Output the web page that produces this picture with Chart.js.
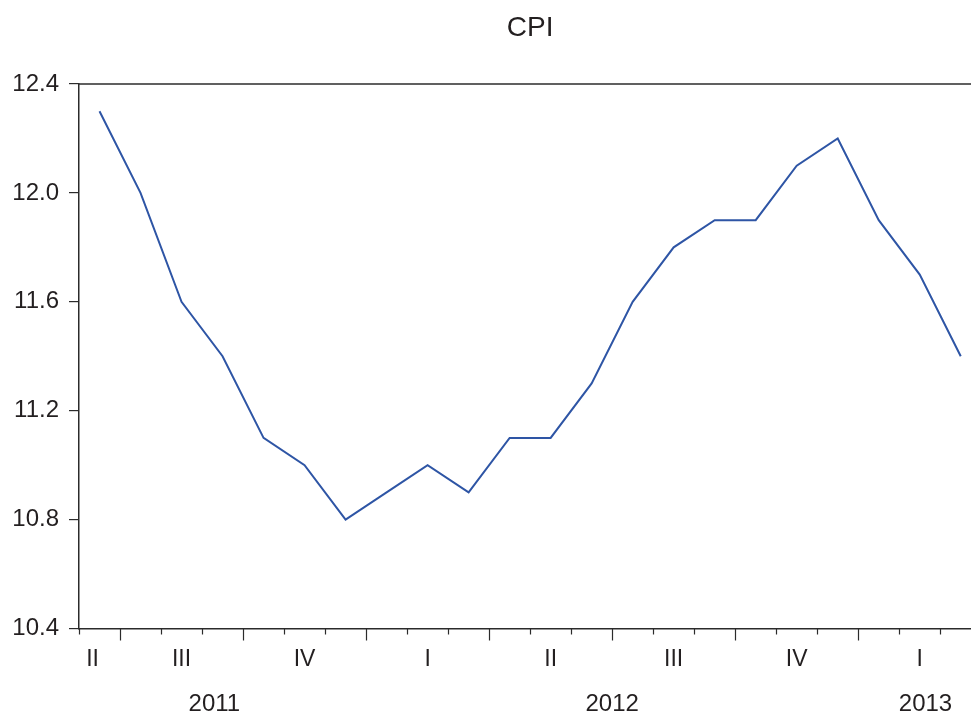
<!DOCTYPE html>
<html>
<head>
<meta charset="utf-8">
<script src="https://cdn.jsdelivr.net/npm/chart.js@4.4.1/dist/chart.umd.min.js"></script>
<style>
  html, body { margin: 0; padding: 0; background: #fff; overflow: hidden; }
  #c { display: block; }
</style>
</head>
<body>
<canvas id="c" width="971" height="717"></canvas>
<script>
// Monthly categories (Jun 2011 .. Mar 2013)
const months = ["2011-06","2011-07","2011-08","2011-09","2011-10","2011-11","2011-12",
                "2012-01","2012-02","2012-03","2012-04","2012-05","2012-06","2012-07",
                "2012-08","2012-09","2012-10","2012-11","2012-12",
                "2013-01","2013-02","2013-03"];
const cpi = [12.3, 12.0, 11.6, 11.4, 11.1, 11.0, 10.8,
             10.9, 11.0, 10.9, 11.1, 11.1, 11.3, 11.6,
             11.8, 11.9, 11.9, 12.1, 12.2,
             11.9, 11.7, 11.4];
// Quarter tick labels and where (in month index units) they sit
const quarterLabels = ["II","III","IV","I","II","III","IV","I"];
const quarterTicks  = [-0.17, 2, 5, 8, 11, 14, 17, 20];
// Year labels
const yearLabels = ["2011","2012","2013"];
const yearTicks  = [2.8, 12.5, 20.14];
// Month boundary tick marks; quarter boundaries get long ticks
const monthBoundaries = [-0.5,0.5,1.5,2.5,3.5,4.5,5.5,6.5,7.5,8.5,9.5,10.5,11.5,12.5,13.5,14.5,15.5,16.5,17.5,18.5,19.5,20.5];
const quarterBoundaries = [0.5, 3.5, 6.5, 9.5, 12.5, 15.5, 18.5];
const yTicks = [10.4, 10.8, 11.2, 11.6, 12.0, 12.4];
const titleText = 'CPI';

const AXIS = '#2b2b2b';
const TEXT = '#231f20';
const FONT = 'Liberation Sans, Arial, sans-serif';

const framePlugin = {
  id: 'frame',
  afterDraw(chart) {
    const ctx = chart.ctx;
    const a = chart.chartArea;
    const xs = chart.scales.x;
    ctx.save();
    ctx.strokeStyle = AXIS;
    ctx.lineWidth = 1.5;
    // top border
    ctx.beginPath();
    ctx.moveTo(a.left, a.top);
    ctx.lineTo(a.right, a.top);
    ctx.stroke();
    // month ticks
    ctx.lineWidth = 1.2;
    monthBoundaries.forEach(v => {
      const px = Math.round(xs.getPixelForValue(v)) + 0.5;
      const len = quarterBoundaries.includes(v) ? 12 : 6;
      ctx.beginPath();
      ctx.moveTo(px, a.bottom);
      ctx.lineTo(px, a.bottom + len);
      ctx.stroke();
    });
    ctx.fillStyle = TEXT;
    ctx.textAlign = 'center';
    ctx.textBaseline = 'middle';
    // title (centred over the full, partly cut-off plot frame)
    ctx.font = '28px ' + FONT;
    ctx.fillText(titleText, xs.getPixelForValue(10.5), 28);
    // year labels
    ctx.font = '24px ' + FONT;
    yearLabels.forEach((t, i) => {
      ctx.fillText(t, xs.getPixelForValue(yearTicks[i]), 704);
    });
    ctx.restore();
  }
};

new Chart(document.getElementById('c'), {
  type: 'line',
  data: {
    datasets: [{
      label: 'CPI',
      data: cpi.map((v, i) => ({ x: i, y: v })),
      borderColor: '#2e55a5',
      borderWidth: 2,
      pointRadius: 0,
      tension: 0,
      fill: false
    }]
  },
  options: {
    responsive: false,
    animation: false,
    layout: { padding: { left: 0, right: 0, top: 84, bottom: 0 } },
    plugins: {
      legend: { display: false },
      tooltip: { enabled: false },
      title: { display: false }
    },
    scales: {
      x: {
        type: 'linear',
        min: -0.5,
        max: 21.25,
        afterBuildTicks: s => { s.ticks = quarterTicks.map(v => ({ value: v })); },
        afterFit: s => { s.height = 88.5; },
        grid: { display: false, drawTicks: false },
        border: { display: true, color: AXIS, width: 1.5 },
        ticks: {
          autoSkip: false,
          maxRotation: 0,
          padding: 17,
          color: TEXT,
          font: { size: 23, family: FONT },
          callback: (v, i) => quarterLabels[i]
        }
      },
      y: {
        min: 10.4,
        max: 12.4,
        afterBuildTicks: s => { s.ticks = yTicks.map(v => ({ value: v })); },
        afterFit: s => { s.width = 79; },
        grid: { drawOnChartArea: false, drawTicks: true, tickLength: 10, color: AXIS, lineWidth: 1.2 },
        border: { display: true, color: AXIS, width: 1.5 },
        ticks: {
          padding: 10,
          color: TEXT,
          font: { size: 24, family: FONT },
          callback: v => v.toFixed(1)
        }
      }
    }
  },
  plugins: [framePlugin]
});
</script>
</body>
</html>
